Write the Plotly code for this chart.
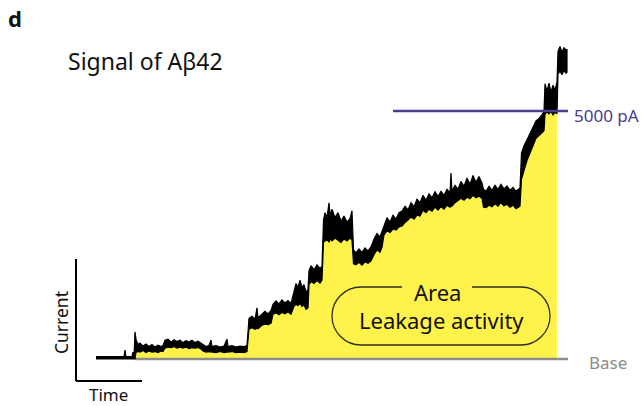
import plotly.graph_objects as go

# ---------------- data ----------------
# time in s, current in pA; each row: time, upper edge of noisy trace, lower edge
trace_time = [0, 28, 29, 30, 36, 37, 38, 39, 40, 42, 44, 47, 50, 53, 56, 59, 62, 65, 67,
              69, 72, 75, 78, 81, 84, 87, 90, 93, 96, 99, 102, 105,
              107, 110, 113, 115, 116, 120, 124, 128, 131, 132, 136, 140, 144, 148, 151,
              153, 156, 159, 161, 162, 164, 166, 169, 172, 175,
              177, 180, 183, 186, 189, 192, 195,
              198, 200, 202, 204, 206, 208, 210, 212,
              213, 215, 218, 221, 224, 226,
              227.5, 229, 231, 233, 234, 236, 239, 242, 245, 248, 251, 254, 256,
              257.5, 260, 263, 266, 269, 272, 275,
              278, 281, 284, 286,
              288, 291, 294, 297, 300, 303,
              306, 309, 312, 315, 318, 321, 324, 327, 330, 333, 336, 339, 342, 345, 348, 351, 354,
              355, 356, 359, 362, 365, 368, 371, 374, 377, 380, 383, 386,
              387.5, 390, 393, 396, 399, 402, 405, 408, 411, 414, 417, 420, 424,
              425.5, 428, 431, 434, 437, 440, 443, 446, 448,
              449, 451, 453, 455, 457, 459, 461,
              462, 464, 466, 468, 470, 471]
trace_upper = [50, 50, 180, 50, 50, 140, 50, 545, 400, 290, 320, 260, 300, 250, 290, 240, 280, 250, 270,
               380, 400, 340, 390, 350, 380, 330, 370, 340, 380, 330, 360, 320,
               280, 250, 270, 380, 250, 270, 240, 260, 400, 250, 270, 240, 260, 250, 270,
               820, 860, 800, 1030, 830, 870, 900, 960, 910, 980,
               1100, 1170, 1110, 1190, 1130, 1180, 1120,
               1400, 1520, 1450, 1590, 1440, 1500, 1350, 1400,
               1780, 1880, 1800, 1900, 1820, 1870,
               2800, 2950, 2850, 3150, 2900, 3020, 2850, 2950, 2780, 2880, 2760, 2830, 2990,
               2200, 2140, 2220, 2150, 2240, 2180, 2260,
               2420, 2530, 2460, 2580,
               2700, 2850, 2760, 2900, 2820, 2950,
               2980, 3080, 3010, 3150, 3070, 3220, 3150, 3300, 3200, 3330, 3250, 3370, 3280, 3380, 3300, 3420, 3350,
               3750, 3380, 3500, 3420, 3580, 3480, 3650, 3520, 3700, 3560, 3680, 3550,
               3420, 3380, 3480, 3400, 3500, 3420, 3520, 3430, 3490, 3400, 3460, 3380, 3450,
               4150, 4300, 4420, 4550, 4680, 4800, 4850, 4920, 5000,
               5550, 5400, 5560, 5380, 5520, 5420, 5580,
               6200, 6300, 6180, 6280, 6220, 6250]
trace_lower = [0, 0, 0, 0, 0, 0, 0, 0, 130, 150, 140, 170, 130, 160, 140, 150, 130, 160, 150,
               220, 240, 230, 250, 220, 240, 220, 240, 210, 230, 220, 230, 200,
               160, 140, 150, 150, 140, 130, 150, 130, 140, 130, 150, 130, 140, 130, 150,
               600, 630, 600, 620, 610, 650, 680, 700, 690, 720,
               900, 930, 890, 940, 910, 950, 900,
               1060, 1100, 1080, 1120, 1060, 1090, 1000, 1030,
               1500, 1560, 1520, 1580, 1530, 1590,
               2350, 2380, 2400, 2360, 2420, 2380, 2440, 2400, 2350, 2420, 2380, 2440, 2400,
               1920, 1900, 1950, 1890, 1960, 1930, 1980,
               2100, 2200, 2150, 2250,
               2500, 2580, 2550, 2620, 2600, 2660,
               2680, 2750, 2800, 2860, 2820, 2900, 2880, 3000, 2950, 3020, 2980, 3060, 3000, 3070, 3020, 3100, 3060,
               3080, 3080, 3150, 3200, 3240, 3200, 3260, 3230, 3300, 3250, 3280, 3240,
               3060, 3050, 3100, 3070, 3130, 3080, 3150, 3090, 3120, 3060, 3100, 3030, 3080,
               3620, 3800, 4000, 4150, 4300, 4450, 4500, 4560, 4600,
               4930, 4980, 4940, 4990, 4920, 4970, 4950,
               5750, 5800, 5730, 5820, 5760, 5780]

area_start, area_end = 40, 461      # s, leakage area shaded
base_start, base_end = 39, 472      # s, extent of base line
ref_current = 5000                  # pA
ref_start, ref_end = 297, 472       # s

title_text = "Signal of Aβ42"
panel_label = "d"
ref_label = "5000 pA"
base_label = "Base"
area_labels = ["Area", "Leakage activity"]
scale_labels = ["Current", "Time"]

# ---------------- figure ----------------
W, H = 644, 406
FONT = "Noto Sans"
YELLOW = "#FFF24A"
PURPLE = "#4B3C8E"
GRAY = "#8C8C8C"

fig = go.Figure()

# leakage area (yellow), up to the lower edge of the trace
ax = [t for t in trace_time if area_start <= t <= area_end]
ay = [lo for t, lo in zip(trace_time, trace_lower) if area_start <= t <= area_end]
fig.add_trace(go.Scatter(x=ax, y=ay, mode="lines", line=dict(width=0, color=YELLOW),
                         fill="tozeroy", fillcolor=YELLOW, hoverinfo="skip"))

# base line
fig.add_trace(go.Scatter(x=[base_start, base_end], y=[0, 0], mode="lines",
                         line=dict(color=GRAY, width=2.5), hoverinfo="skip"))

# noisy current trace as a black band
bx = trace_time + trace_time[::-1]
by = trace_upper + trace_lower[::-1]
fig.add_trace(go.Scatter(x=bx, y=by, mode="lines", fill="toself", fillcolor="black",
                         line=dict(color="black", width=1.2), hoverinfo="skip"))

# 5000 pA reference line
fig.add_trace(go.Scatter(x=[ref_start, ref_end], y=[ref_current, ref_current], mode="lines",
                         line=dict(color=PURPLE, width=2.5), hoverinfo="skip"))


def px(x, y):
    return x / W, 1 - y / H


shapes = []
# scale bars
x0, y0 = px(76, 259)
x1, y1 = px(76, 381)
x2, y2 = px(142, 381)
shapes.append(dict(type="line", xref="paper", yref="paper", x0=x0, y0=y0, x1=x1, y1=y1,
                   line=dict(color="black", width=2)))
shapes.append(dict(type="line", xref="paper", yref="paper", x0=x1, y0=y1, x1=x2, y1=y2,
                   line=dict(color="black", width=2)))

# rounded box around area label with gap for "Area"
L, R, T, B, r = 332, 550, 287, 345, 29
k = 0.5523 * r
pts = [
    ("M", [(402, T)]),
    ("L", [(L + r, T)]),
    ("C", [(L + r - k, T), (L, T + r - k), (L, T + r)]),
    ("C", [(L, B - r + k), (L + r - k, B), (L + r, B)]),
    ("L", [(R - r, B)]),
    ("C", [(R - r + k, B), (R, B - r + k), (R, B - r)]),
    ("C", [(R, T + r - k), (R - r + k, T), (R - r, T)]),
    ("L", [(472, T)]),
]
path = ""
for cmd, pl in pts:
    path += cmd + " " + " ".join("%.5f,%.5f" % px(a, b) for a, b in pl) + " "
shapes.append(dict(type="path", xref="paper", yref="paper", path=path.strip(),
                   line=dict(color="#2f2f25", width=1.3)))

annotations = []


def add_text(text, x, y, size, color="#111", xanchor="center", angle=0, bold=False):
    fx, fy = px(x, y)
    annotations.append(dict(text=("<b>%s</b>" % text) if bold else text, x=fx, y=fy,
                            xref="paper", yref="paper", showarrow=False,
                            xanchor=xanchor, yanchor="middle", textangle=angle,
                            font=dict(family=FONT, size=size, color=color)))


add_text(panel_label, 6, 18, 22, xanchor="left", bold=True)
add_text(title_text, 66, 61, 23, xanchor="left")
add_text(ref_label, 572, 115, 17, color=PURPLE, xanchor="left")
add_text(base_label, 587, 362, 17, color=GRAY, xanchor="left")
add_text(area_labels[0], 437, 292, 22)
add_text(area_labels[1], 441, 320, 22)
add_text(scale_labels[0], 61, 323, 17.5, angle=-90)
add_text(scale_labels[1], 108, 394, 17)

fig.update_layout(
    width=W, height=H, margin=dict(l=0, r=0, t=0, b=0),
    paper_bgcolor="white", plot_bgcolor="white", showlegend=False,
    xaxis=dict(range=[-96, W - 96], visible=False, fixedrange=True),
    yaxis=dict(range=[-948, 7237], visible=False, fixedrange=True),
    shapes=shapes, annotations=annotations,
)

fig.write_html("out.html", config={"displayModeBar": False},
               post_script="document.body.style.margin='0';document.body.style.overflow='hidden';")
